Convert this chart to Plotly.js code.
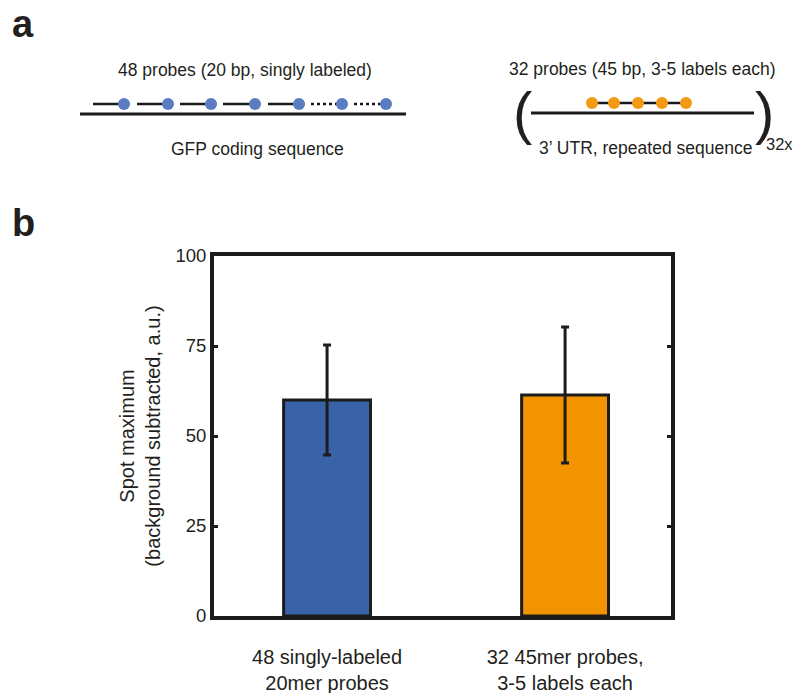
<!DOCTYPE html>
<html>
<head>
<meta charset="utf-8">
<script src="https://cdn.plot.ly/plotly-3.0.1.min.js"></script>
<style>html,body{margin:0;padding:0;background:#fff;}</style>
</head>
<body>
<div id="chart" style="width:792px;height:693px;"></div>
<script>
// ---- Panel b data ----
var categories = ["48 singly-labeled<br>20mer probes", "32 45mer probes,<br>3-5 labels each"];
var catPos = [1, 2];
var spotMax = [60.0, 61.4];
var spotErr = [15.3, 18.9];
var barColors = ["#3a62a7", "#f29400"];
var yTicks = [0, 25, 50, 75, 100];

// ---- Panel a diagram data (pixel-like coordinates of schematic) ----
var gfpLineX = [80, 406];
var gfpLineY = [114, 114];
var gfpSolidStart = [93, 137, 180, 223, 268];
var gfpSolidEnd = [124, 168, 211, 255, 299];
var gfpDottedStart = [311, 354];
var gfpDottedEnd = [342, 386];
var gfpDotsX = [124, 168, 211, 255, 299, 342, 386];
var probeY = 104;
var utrLineX = [531, 754];
var utrLineY = [113, 113];
var utrDotsX = [592, 614, 638, 662, 686];
var utrDotsY = 103;

function segs(starts, ends, y) {
  var xs = [], ys = [];
  for (var i = 0; i < starts.length; i++) {
    xs.push(starts[i], ends[i], null);
    ys.push(y, y, null);
  }
  return {x: xs, y: ys};
}
var solid = segs(gfpSolidStart, gfpSolidEnd, probeY);
var dotted = segs(gfpDottedStart, gfpDottedEnd, probeY);

var W = 792, H = 693;
var txtColor = "#231f20";
var font = "Liberation Sans, Arial, sans-serif";

var traces = [
  {
    type: "bar", x: catPos, y: spotMax,
    width: 0.365,
    marker: {color: barColors, line: {color: "#1c1c1c", width: 3}},
    error_y: {type: "data", array: spotErr, visible: true, color: "#1c1c1c", thickness: 3, width: 4},
    xaxis: "x", yaxis: "y", hoverinfo: "y"
  },
  {x: gfpLineX, y: gfpLineY, mode: "lines", line: {color: "#1a1a1a", width: 3}, xaxis: "x2", yaxis: "y2", hoverinfo: "skip"},
  {x: solid.x, y: solid.y, mode: "lines", line: {color: "#1a1a1a", width: 2.5}, xaxis: "x2", yaxis: "y2", hoverinfo: "skip"},
  {x: dotted.x, y: dotted.y, mode: "lines", line: {color: "#1a1a1a", width: 2.5, dash: "dot"}, xaxis: "x2", yaxis: "y2", hoverinfo: "skip"},
  {x: gfpDotsX, y: gfpDotsX.map(function(){return probeY;}), mode: "markers", marker: {color: "#5a7dc2", size: 12}, xaxis: "x2", yaxis: "y2", hoverinfo: "skip"},
  {x: utrLineX, y: utrLineY, mode: "lines", line: {color: "#1a1a1a", width: 3}, xaxis: "x2", yaxis: "y2", hoverinfo: "skip"},
  {x: utrDotsX, y: utrDotsX.map(function(){return utrDotsY;}), mode: "lines+markers", line: {color: "#1a1a1a", width: 2.5}, marker: {color: "#f39a12", size: 12}, xaxis: "x2", yaxis: "y2", hoverinfo: "skip"}
];

function px(x) { return x / W; }
function py(y) { return 1 - y / H; }
function ann(text, x, y, size, extra) {
  var a = {text: text, x: px(x), y: py(y), xref: "paper", yref: "paper", showarrow: false,
    xanchor: "center", yanchor: "middle", font: {family: font, size: size, color: txtColor}};
  for (var k in extra) a[k] = extra[k];
  return a;
}

var annotations = [
  ann("<b>a</b>", 10, 24, 38, {xanchor: "left"}),
  ann("<b>b</b>", 10, 223, 38, {xanchor: "left"}),
  ann("48 probes (20 bp, singly labeled)", 245, 70, 17.5),
  ann("GFP coding sequence", 257, 149, 17.5),
  ann("32 probes (45 bp, 3-5 labels each)", 642, 69, 17.5),
  ann("3’ UTR, repeated sequence", 645, 148, 17.5),
  ann("(", 522, 112, 58),
  ann(")", 764, 112, 58),
  ann("32x", 779, 144, 16.5)
];

var layout = {
  width: W, height: H,
  margin: {l: 0, r: 0, t: 0, b: 0},
  paper_bgcolor: "#ffffff", plot_bgcolor: "rgba(0,0,0,0)",
  showlegend: false,
  font: {family: font, color: txtColor},
  xaxis: {
    domain: [214 / W, 671 / W], range: [0.525, 2.445],
    tickvals: catPos, ticktext: categories, ticks: "",
    showline: true, linecolor: "#1c1c1c", linewidth: 4, mirror: true,
    showgrid: false, zeroline: false, fixedrange: true,
    tickfont: {family: font, size: 20, color: txtColor},
    ticklabelstandoff: 20
  },
  yaxis: {
    domain: [1 - 616 / H, 1 - 256 / H], range: [0, 100],
    tickvals: yTicks, ticktext: yTicks.map(String),
    ticks: "inside", ticklen: 4, tickwidth: 3, tickcolor: "#1c1c1c",
    showline: true, linecolor: "#1c1c1c", linewidth: 4, mirror: "ticks",
    showgrid: false, zeroline: false, fixedrange: true,
    tickfont: {family: font, size: 18.5, color: txtColor},
    ticklabelstandoff: 0,
    title: {text: "Spot maximum<br>(background subtracted, a.u.)", font: {family: font, size: 20, color: txtColor}, standoff: 10}
  },
  xaxis2: {domain: [0, 1], range: [0, W], visible: false, fixedrange: true, anchor: "y2"},
  yaxis2: {domain: [0, 1], range: [H, 0], visible: false, fixedrange: true, anchor: "x2"},
  annotations: annotations
};

Plotly.newPlot("chart", traces, layout, {displayModeBar: false, staticPlot: true});
</script>
</body>
</html>
